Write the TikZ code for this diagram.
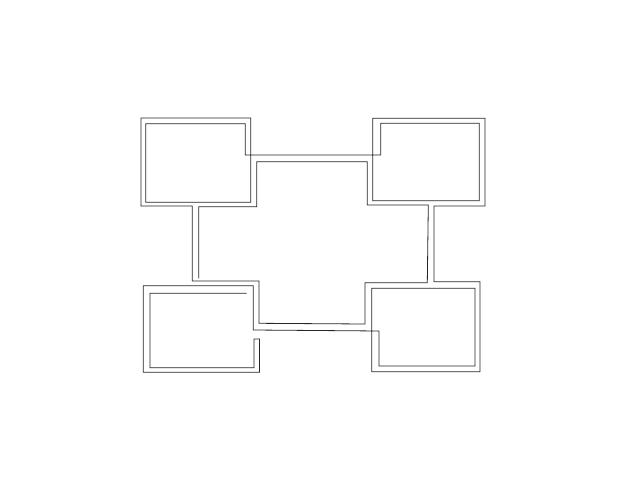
\documentclass[tikz,border=0pt]{standalone}
\begin{document}
\begin{tikzpicture}[x=1pt, y=-1pt, muro/.style={draw=black!85, line width=0.8pt, line join=miter}]
	\useasboundingbox (0,0) rectangle (626,492);
	% riquadro in basso a sinistra, poi tutto il resto
	\draw [muro] (246.7,293.3) -- (150,293.3) -- (150,367.7) -- (254,367.7) -- (254,339)
		-- (259.5,339) -- (259.5,372.3) -- (143.3,372.3) -- (143.3,285.7) -- (253.3,285.7)
		-- (253.3,330) -- (379,331) -- (379,366) -- (475,366) -- (475,288.3)
		-- (371.7,288.3) -- (371.7,371.7) -- (480,371.7) -- (480,281.7) -- (434,281.7)
		-- (434,206) -- (485,206) -- (485,118.3) -- (372.7,118.3) -- (372.7,200.7)
		-- (479.3,200.7) -- (479.3,123.3) -- (380.7,123.3) -- (380.7,155) -- (245.3,155)
		-- (245.3,123.7) -- (145.7,123.7) -- (145.7,202.3) -- (250.7,202.3) -- (250.7,118)
		-- (141,118) -- (141,206) -- (192.3,206) -- (192.3,281) -- (259,281)
		-- (259,323.3) -- (365,324) -- (365,282.7) -- (427.3,282.7) -- (428.3,205)
		-- (367.3,205) -- (367.3,161.7) -- (256.7,161.7) -- (256.7,206.7) -- (198.7,206.7)
		-- (198.7,278.3);
\end{tikzpicture}
\end{document}
